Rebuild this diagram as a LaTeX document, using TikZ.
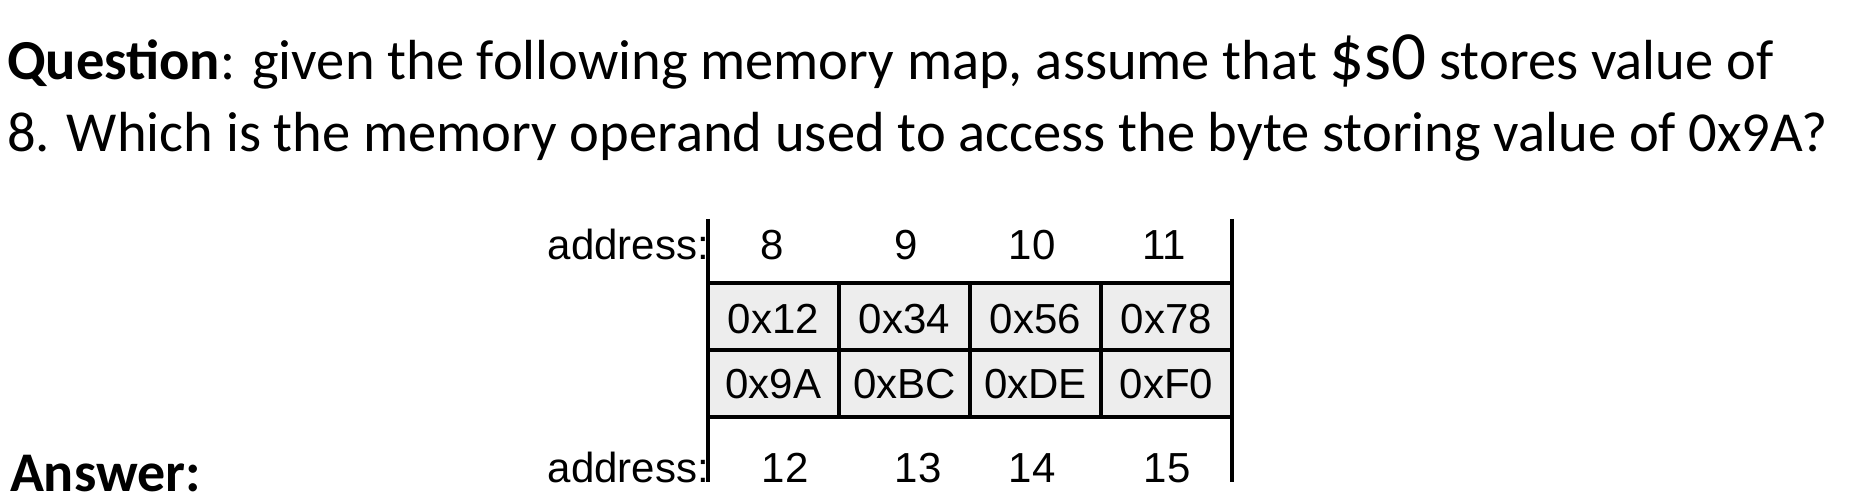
\documentclass[tikz,border=0pt]{standalone}
\usepackage{fontspec}
\setmainfont{Carlito}
\newfontfamily\arialf{Liberation Sans}
\definecolor{cellgray}{HTML}{EDEDED}
\tikzset{
  qtext/.style={anchor=base west, inner sep=0pt, outer sep=0pt, text depth=0pt, font=\fontsize{56.5}{62}\selectfont},
  tlabel/.style={anchor=base, inner sep=0pt, outer sep=0pt, font=\arialf\fontsize{42}{48}\selectfont},
  addr/.style={anchor=base east, inner sep=0pt, outer sep=0pt, font=\arialf\fontsize{42}{48}\selectfont},
  rule/.style={line width=4pt, black},
}
\begin{document}
\begin{tikzpicture}[x=1pt,y=-1pt]
\useasboundingbox (0,0) rectangle (1874,502);
\fill[white] (0,0) rectangle (1874,502);
% question text
\node[qtext] (q1) at (7,80) {\textbf{Question}: given the following memory map, assume that {\fontsize{69}{72}\selectfont\$s0} stores value of};
\node[qtext] (q2) at (7,152) {8. Which is the memory operand used to access the byte storing value of 0x9A?};
\node[qtext, font=\bfseries\fontsize{56}{60}\selectfont] (ans) at (10,491.5) {Answer:};
% table
\fill[cellgray] (708,283) rectangle (1232,417);
\draw[rule] (708,219) -- (708,482);
\draw[rule] (1232,219) -- (1232,482);
\draw[rule] (708,283) -- (1232,283);
\draw[rule] (708,350) -- (1232,350);
\draw[rule] (708,417) -- (1232,417);
\foreach \x in {839,970,1101} \draw[rule] (\x,283) -- (\x,417);
% labels
\node[addr] (a1) at (709,259.5) {address:};
\node[addr] (a2) at (709,482) {address:};
\node[tlabel] (n8) at (772,260) {8};
\node[tlabel] (n9) at (906,260) {9};
\node[tlabel] (n10) at (1032,260) {10};
\node[tlabel] (n11) at (1164,260) {11};
\node[tlabel] (n12) at (785,482) {12};
\node[tlabel] (n13) at (918,482) {13};
\node[tlabel] (n14) at (1032,482) {14};
\node[tlabel] (n15) at (1167,482) {15};
\node[tlabel] (c1) at (773.5,333.5) {0x12};
\node[tlabel] (c2) at (904.5,333.5) {0x34};
\node[tlabel] (c3) at (1035.5,333.5) {0x56};
\node[tlabel] (c4) at (1166.5,333.5) {0x78};
\node[tlabel] (c5) at (773.5,398.5) {0x9A};
\node[tlabel] (c6) at (904.5,398.5) {0xBC};
\node[tlabel] (c7) at (1035.5,398.5) {0xDE};
\node[tlabel] (c8) at (1166.5,398.5) {0xF0};
\end{tikzpicture}
\end{document}
